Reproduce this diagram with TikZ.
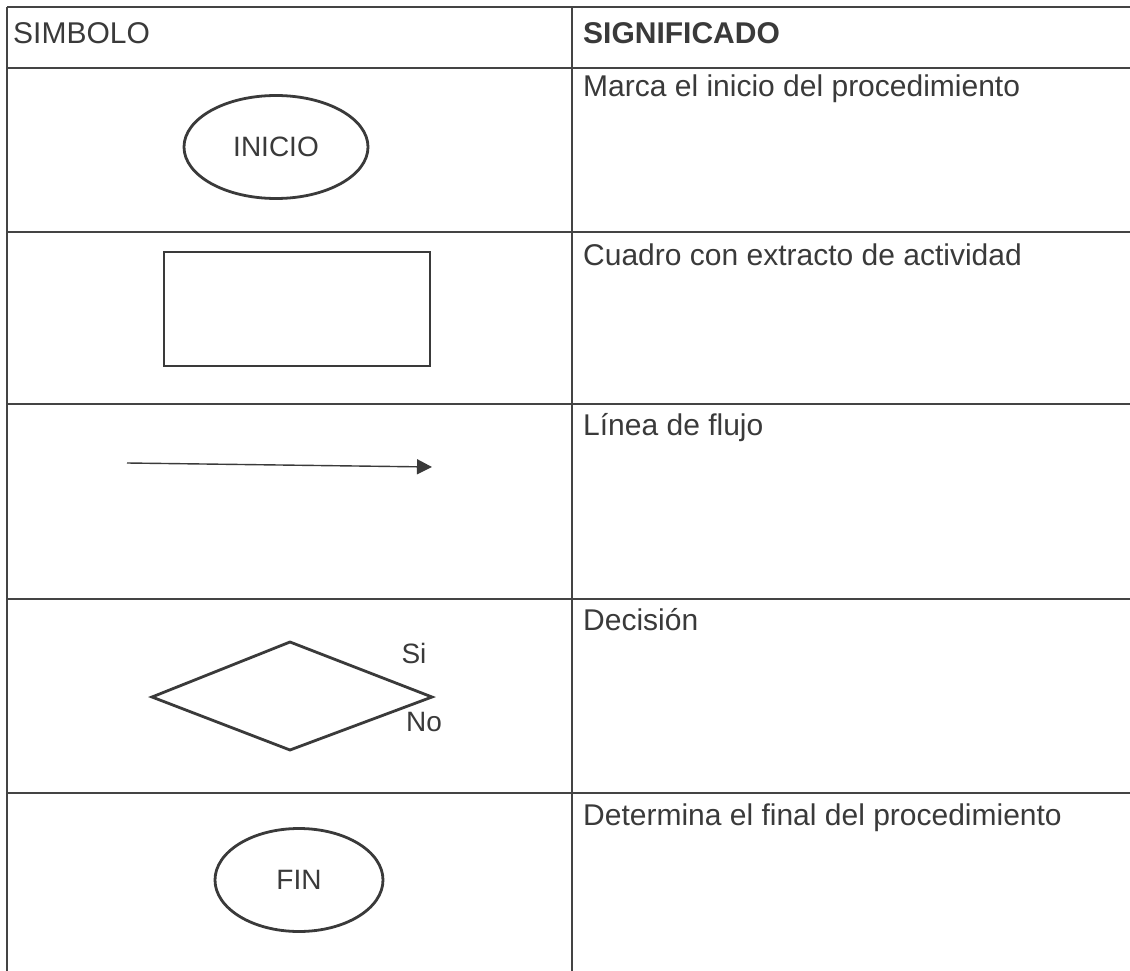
\documentclass[tikz,border=0pt]{standalone}
\usepackage{fontspec}
\setmainfont{Liberation Sans}
\usetikzlibrary{arrows.meta,shapes.geometric}
\definecolor{ink}{HTML}{3A3A3A}
\definecolor{rule}{HTML}{444444}
\tikzset{
  tline/.style={draw=rule, line width=1.8pt},
  shapeline/.style={draw=ink, line width=2.8pt},
  bodytext/.style={anchor=base west, inner sep=0pt, text=ink, font=\fontsize{30}{34}\selectfont},
  headtext/.style={bodytext},
  shapetext/.style={inner sep=0pt, text=ink, font=\fontsize{28}{31}\selectfont},
  labeltext/.style={inner sep=0pt, text=ink, font=\fontsize{28}{31}\selectfont},
}
\begin{document}
\begin{tikzpicture}[x=1pt, y=-1pt]
\useasboundingbox[fill=white] (0,0) rectangle (1130,971);
% table grid
\coordinate (tl) at (7,7);
\coordinate (tr) at (1130,7);
\coordinate (bl) at (7,971);
\coordinate (ct) at (572,7);
\coordinate (cb) at (572,971);
\draw[tline] (tl) -- (tr);
\draw[tline] (tl) -- (bl);
\draw[tline] (ct) -- (cb);
\foreach \y in {68,232,404,599,793} {
  \draw[tline] (7,\y) -- (1130,\y);
}
% header
\node[headtext] (h1) at (13,44) {SIMBOLO};
\node[headtext, font=\fontsize{30}{34}\selectfont\bfseries] (h2) at (583,44) {SIGNIFICADO};
% meanings
\node[bodytext] (m1) at (583,97) {Marca el inicio del procedimiento};
\node[bodytext] (m2) at (583,265) {Cuadro con extracto de actividad};
\node[bodytext] (m3) at (583,435) {Línea de flujo};
\node[bodytext] (m4) at (583,630) {Decisión};
\node[bodytext] (m5) at (583,825) {Determina el final del procedimiento};
% symbols
\node[shapeline, ellipse, minimum width=184pt, minimum height=103pt, shapetext] (inicio) at (276,147) {INICIO};
\node[shapeline, rectangle, minimum width=266pt, minimum height=114pt, inner sep=0pt] (box) at (297,309) {};
\coordinate (a1) at (127,463);
\coordinate (a2) at (432,467);
\draw[draw=ink, line width=1.4pt, -{Triangle[length=15pt, width=15pt]}] (a1) -- (a2);
\coordinate (dl) at (152,697);
\coordinate (dt) at (290,642);
\coordinate (dr) at (432,697);
\coordinate (db) at (290,750);
\draw[shapeline, line join=miter] (dl) -- (dt) -- (dr) -- (db) -- cycle;
\node[labeltext] (si) at (414,653) {Si};
\node[labeltext] (no) at (424,722) {No};
\node[shapeline, ellipse, minimum width=168pt, minimum height=103pt, shapetext] (fin) at (299,880) {FIN};
\end{tikzpicture}
\end{document}
